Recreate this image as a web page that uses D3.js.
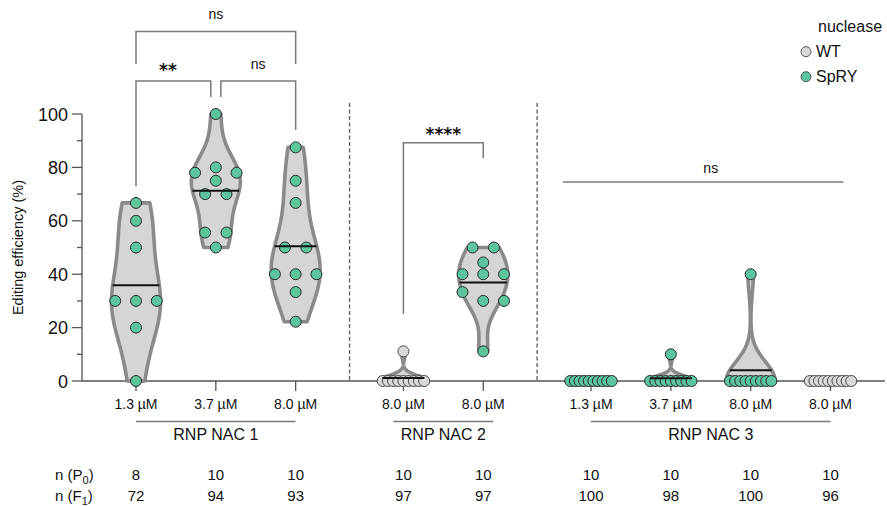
<!DOCTYPE html>
<html>
<head>
<meta charset="utf-8">
<script src="https://cdn.jsdelivr.net/npm/d3@7"></script>
<style>
  body { margin: 0; background: #fff; }
  text { font-family: "Liberation Sans", Arial, Helvetica, sans-serif; fill: #111; }
</style>
</head>
<body>
<svg id="chart" width="887" height="506"></svg>
<script>
// ---- data ----
const concentrations = ["1.3 µM", "3.7 µM", "8.0 µM", "8.0 µM", "8.0 µM", "1.3 µM", "3.7 µM", "8.0 µM", "8.0 µM"];
const groupOf = [0, 0, 0, 1, 1, 2, 2, 2, 2];
const groupNames = ["RNP NAC 1", "RNP NAC 2", "RNP NAC 3"];
const nucleaseOf = ["SpRY", "SpRY", "SpRY", "WT", "SpRY", "SpRY", "SpRY", "SpRY", "WT"];
const nucleases = ["WT", "SpRY"];
const nP0 = [8, 10, 10, 10, 10, 10, 10, 10, 10];
const nF1 = [72, 94, 93, 97, 97, 100, 98, 100, 96];

// editing efficiency (%) per P0 plant, in spreadsheet order
const efficiency = [
  [66.7, 60, 50, 30, 30, 30, 20, 0],
  [100, 78, 80, 78, 75, 70, 70, 55.6, 55.6, 50],
  [87.5, 75, 66.7, 50, 50, 40, 40, 40, 33.3, 22.2],
  [11.1, 0, 0, 0, 0, 0, 0, 0, 0, 0],
  [50, 50, 44.4, 40, 40, 40, 33.3, 30, 30, 11.1],
  [0, 0, 0, 0, 0, 0, 0, 0, 0, 0],
  [10, 0, 0, 0, 0, 0, 0, 0, 0, 0],
  [40, 0, 0, 0, 0, 0, 0, 0, 0, 0],
  [0, 0, 0, 0, 0, 0, 0, 0, 0, 0]
];

const yTicks = [0, 20, 40, 60, 80, 100];
const yMinorTicks = [10, 30, 50, 70, 90];

// statistical comparisons (category indices)
const comparisons = [
  { a: 0, b: 2, label: "ns" },
  { a: 0, b: 1, label: "**" },
  { a: 1, b: 2, label: "ns" },
  { a: 3, b: 4, label: "****" },
  { a: 5, b: 8, label: "ns" }
];

// ---- styling ----
const colors = { SpRY: "#5cc59e", WT: "#d9d9d9" };
const pointStroke = { SpRY: "#2a2a2a", WT: "#4a4a4a" };
const violinFill = "#d5d5d5";
const violinStroke = "#8a8a8a";
const lineGray = "#7a7a7a";

const svg = d3.select("#chart");

// ---- scales ----
const groupGap = 0.35;
const slot = concentrations.map((_, i) => i + groupOf[i] * groupGap);
const x = d3.scaleLinear().domain([0, 8 + 2 * groupGap]).range([136, 830.5]);
const cx = i => x(slot[i]);
const y = d3.scaleLinear().domain([0, 100]).range([381, 114]);

// ---- separators between RNP groups ----
[[2, 3], [4, 5]].forEach(([a, b]) => {
  const sx = (cx(a) + cx(b)) / 2;
  svg.append("line")
    .attr("x1", sx).attr("x2", sx).attr("y1", 103).attr("y2", 381)
    .attr("stroke", "#666").attr("stroke-width", 1.4)
    .attr("stroke-dasharray", "4,2.5");
});

// ---- y axis ----
const yAxis = svg.append("g").attr("transform", "translate(82,0)");
yAxis.append("line").attr("x1", 0).attr("x2", 0).attr("y1", y(100)).attr("y2", y(0))
  .attr("stroke", "#555").attr("stroke-width", 1.3);
yAxis.selectAll(".major").data(yTicks).join("line")
  .attr("x1", -10).attr("x2", 0).attr("y1", d => y(d)).attr("y2", d => y(d))
  .attr("stroke", "#555").attr("stroke-width", 1.3);
yAxis.selectAll(".minor").data(yMinorTicks).join("line")
  .attr("x1", -5).attr("x2", 0).attr("y1", d => y(d)).attr("y2", d => y(d))
  .attr("stroke", "#555").attr("stroke-width", 1.3);
yAxis.selectAll("text").data(yTicks).join("text")
  .attr("x", -14).attr("y", d => y(d) + 6.5)
  .attr("text-anchor", "end").style("font-size", "18px")
  .text(d => d);

svg.append("text")
  .attr("transform", `translate(22.5,${(y(0) + y(100)) / 2}) rotate(-90)`)
  .attr("text-anchor", "middle").style("font-size", "14.5px")
  .text("Editing efficiency (%)");

// ---- x axis ----
svg.append("line").attr("x1", 82).attr("x2", 885).attr("y1", y(0)).attr("y2", y(0))
  .attr("stroke", "#555").attr("stroke-width", 1.3);
svg.selectAll(".xtick").data(concentrations).join("line")
  .attr("x1", (d, i) => cx(i)).attr("x2", (d, i) => cx(i))
  .attr("y1", y(0)).attr("y2", y(0) + 10)
  .attr("stroke", "#555").attr("stroke-width", 1.3);
svg.selectAll(".xlabel").data(concentrations).join("text")
  .attr("x", (d, i) => cx(i)).attr("y", 409)
  .attr("text-anchor", "middle").style("font-size", "14px")
  .text(d => d);

// group underlines and names
groupNames.forEach((name, g) => {
  const idx = d3.range(concentrations.length).filter(i => groupOf[i] === g);
  let x0 = cx(idx[0]), x1 = cx(idx[idx.length - 1]);
  const mid = (x0 + x1) / 2;
  const half = Math.max((x1 - x0) / 2, 50);
  svg.append("line").attr("x1", mid - half).attr("x2", mid + half)
    .attr("y1", 421.5).attr("y2", 421.5)
    .attr("stroke", lineGray).attr("stroke-width", 1.5);
  svg.append("text").attr("x", mid).attr("y", 440)
    .attr("text-anchor", "middle").style("font-size", "16px").text(name);
});

// n rows
const nRow = (label, sub, values, baseline) => {
  const t = svg.append("text").attr("x", 55).attr("y", baseline).style("font-size", "15px");
  t.append("tspan").text(label + "(" + sub[0]);
  t.append("tspan").attr("dy", 4).style("font-size", "11px").text(sub[1]);
  t.append("tspan").attr("dy", -4).text(")");
  svg.selectAll(null).data(values).join("text")
    .attr("x", (d, i) => cx(i)).attr("y", baseline)
    .attr("text-anchor", "middle").style("font-size", "15px")
    .text(d => d);
};
nRow("n ", ["P", "0"], nP0, 480);
nRow("n ", ["F", "1"], nF1, 500.5);

// ---- violins (gaussian KDE, truncated at data range) ----
const maxHalfWidth = 24.5;
function kde(values) {
  const n = values.length;
  const sd = d3.deviation(values);
  const h = 0.9 * sd * Math.pow(n, -0.2);
  const lo = d3.min(values), hi = d3.max(values);
  const grid = d3.range(0, 121).map(k => lo + (hi - lo) * k / 120);
  const dens = grid.map(v => [v, d3.sum(values, d => Math.exp(-0.5 * ((v - d) / h) ** 2))]);
  const peak = d3.max(dens, d => d[1]);
  return { dens: dens.map(([v, d]) => [v, d / peak]), h };
}
function halfWidthAt(k, v) {
  const d = k.dens;
  for (let i = 1; i < d.length; i++) {
    if (v <= d[i][0]) {
      const t = (v - d[i - 1][0]) / (d[i][0] - d[i - 1][0] || 1);
      return (d[i - 1][1] + t * (d[i][1] - d[i - 1][1])) * maxHalfWidth;
    }
  }
  return d[d.length - 1][1] * maxHalfWidth;
}

const violins = svg.append("g");
const meanLines = [];
efficiency.forEach((vals, i) => {
  if (d3.max(vals) === d3.min(vals)) return;
  const k = kde(vals);
  const area = d3.area()
    .y(d => y(d[0]))
    .x0(d => cx(i) - d[1] * maxHalfWidth)
    .x1(d => cx(i) + d[1] * maxHalfWidth);
  violins.append("path").attr("d", area(k.dens))
    .attr("fill", violinFill).attr("stroke", violinStroke)
    .attr("stroke-width", 3.6).attr("stroke-linejoin", "round");
  const m = d3.mean(vals);
  meanLines.push({ i, m, w: halfWidthAt(k, m) });
});

// ---- points (row-binned scatter) ----
const r = 5.5, rowStep = 21.4, rowSpan = 41.5, rowTol = 4;
const points = [];
efficiency.forEach((vals, i) => {
  const order = d3.range(vals.length).sort((a, b) => vals[b] - vals[a] || a - b);
  const rows = [];
  order.forEach(j => {
    const last = rows[rows.length - 1];
    if (last && vals[last[0]] - vals[j] < rowTol) last.push(j);
    else rows.push([j]);
  });
  rows.forEach(row => {
    row.sort((a, b) => a - b);
    const n = row.length;
    const step = n > 1 ? Math.min(rowStep, rowSpan / (n - 1)) : 0;
    row.forEach((j, p) => {
      points.push({ x: cx(i) + (p - (n - 1) / 2) * step, y: y(vals[j]), nuc: nucleaseOf[i] });
    });
  });
});
svg.append("g").selectAll("circle").data(points).join("circle")
  .attr("cx", d => d.x).attr("cy", d => d.y).attr("r", r)
  .attr("fill", d => colors[d.nuc]).attr("stroke", d => pointStroke[d.nuc])
  .attr("stroke-width", 1);

// mean lines
svg.append("g").selectAll("line").data(meanLines).join("line")
  .attr("x1", d => cx(d.i) - d.w).attr("x2", d => cx(d.i) + d.w)
  .attr("y1", d => y(d.m)).attr("y2", d => y(d.m))
  .attr("stroke", "#111").attr("stroke-width", 2);

// ---- significance brackets ----
const bracketLayout = [
  { x0: cx(0), x1: cx(2), top: 31.5, l: 64, rr: 64, ty: 19, tx: null },
  { x0: cx(0), x1: cx(1) - 5, top: 81, l: 186, rr: 97, ty: 75.5, tx: (cx(0) + cx(1)) / 2 - 8 },
  { x0: cx(1) + 5, x1: cx(2), top: 81, l: 97, rr: 130, ty: 69, tx: null },
  { x0: cx(3), x1: cx(4), top: 142.7, l: 314, rr: 158, ty: 139.5, tx: null },
  { x0: cx(5) - 28, x1: cx(8) + 13, top: 182, l: null, rr: null, ty: 173, tx: (cx(5) + cx(8)) / 2 }
];
const brackets = svg.append("g");
comparisons.forEach((c, k) => {
  const b = bracketLayout[k];
  const pts = [];
  if (b.l !== null) pts.push([b.x0, b.l]);
  pts.push([b.x0, b.top], [b.x1, b.top]);
  if (b.rr !== null) pts.push([b.x1, b.rr]);
  brackets.append("path").attr("d", d3.line()(pts))
    .attr("fill", "none").attr("stroke", lineGray).attr("stroke-width", 1.5);
  const isStar = c.label.includes("*");
  brackets.append("text")
    .attr("x", b.tx !== null ? b.tx : (b.x0 + b.x1) / 2)
    .attr("y", b.ty)
    .attr("text-anchor", "middle")
    .style("font-size", isStar ? "17px" : "14px")
    .style("font-family", isStar ? "'DejaVu Sans', sans-serif" : null)
    .style("font-weight", isStar ? "bold" : null)
    .text(c.label);
});

// ---- legend ----
const legend = svg.append("g");
legend.append("text").attr("x", 818).attr("y", 31.5).style("font-size", "16px").text("nuclease");
nucleases.forEach((nuc, k) => {
  const ly = 51.7 + k * 25;
  legend.append("circle").attr("cx", 806).attr("cy", ly).attr("r", 5)
    .attr("fill", colors[nuc]).attr("stroke", "#555").attr("stroke-width", 1);
  legend.append("text").attr("x", 816).attr("y", ly + 5.5).style("font-size", "16px").text(nuc);
});
</script>
</body>
</html>
